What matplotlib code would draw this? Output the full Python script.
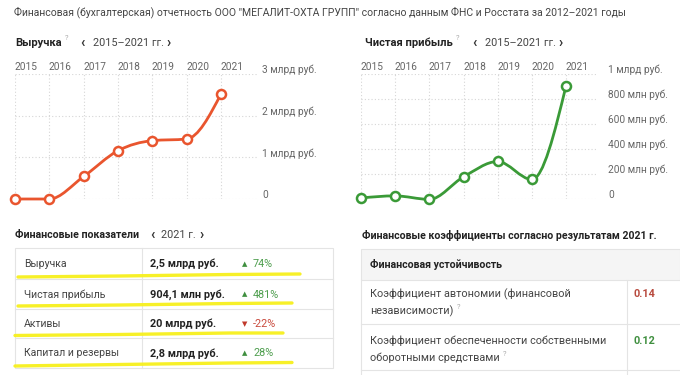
import matplotlib
matplotlib.use("Agg")
import matplotlib.pyplot as plt
import numpy as np
from matplotlib.path import Path
from matplotlib.patches import PathPatch, Rectangle
from matplotlib.lines import Line2D

# данные
years = [2015, 2016, 2017, 2018, 2019, 2020, 2021]
revenue = [0.0, 0.0, 0.54, 1.16, 1.40, 1.44, 2.52]          # млрд руб.
profit = [8, 25, -3, 177, 300, 156, 904]                     # млн руб.
rev_ticks = [0, 1, 2, 3]
rev_labels = ["0", "1 млрд руб.", "2 млрд руб.", "3 млрд руб."]
prof_ticks = [0, 200, 400, 600, 800, 1000]
prof_labels = ["0", "200 млн руб.", "400 млн руб.", "600 млн руб.", "800 млн руб.", "1 млрд руб."]

ind_names = ["Выручка", "Чистая прибыль", "Активы", "Капитал и резервы"]
ind_values = ["2,5 млрд руб.", "904,1 млн руб.", "20 млрд руб.", "2,8 млрд руб."]
ind_change = [74, 481, -22, 28]

coef_names = [["Коэффициент автономии (финансовой", "независимости)"],
              ["Коэффициент обеспеченности собственными", "оборотными средствами"]]
coef_values = ["0.14", "0.12"]
coef_colors = ["#b84a3e", "#3f8f3f"]

W, H = 680, 375
plt.rcParams['font.family'] = ['Roboto', 'DejaVu Sans']
fig = plt.figure(figsize=(W / 100, H / 100), dpi=100)
fig.patch.set_facecolor("white")
renderer = fig.canvas.get_renderer()


def fx(x):
    return x / W


def fy(y):
    return 1 - y / H


def txt(x, y, s, **kw):
    kw.setdefault("va", "center")
    kw.setdefault("ha", "left")
    return fig.text(fx(x), fy(y), s, **kw)


def right_px(t):
    # правый край текста в пикселях
    return t.get_window_extent(renderer).x1


def qmark(t, y):
    txt(right_px(t) + 3, y, "?", fontsize=5.5, color="#aaaaaa")


def monotone_path(xs, ys):
    # кривая как d3.curveMonotoneX
    xs = np.asarray(xs, float)
    ys = np.asarray(ys, float)
    n = len(xs)
    h = np.diff(xs)
    s = np.diff(ys) / h
    t = np.zeros(n)
    for i in range(1, n - 1):
        p = (s[i - 1] * h[i] + s[i] * h[i - 1]) / (h[i - 1] + h[i])
        t[i] = (np.sign(s[i - 1]) + np.sign(s[i])) * min(abs(s[i - 1]), abs(s[i]), 0.5 * abs(p))
    t[0] = (3 * s[0] - t[1]) / 2
    t[-1] = (3 * s[-1] - t[-2]) / 2
    verts = [(xs[0], ys[0])]
    codes = [Path.MOVETO]
    for i in range(n - 1):
        dx = h[i] / 3
        verts += [(xs[i] + dx, ys[i] + dx * t[i]),
                  (xs[i + 1] - dx, ys[i + 1] - dx * t[i + 1]),
                  (xs[i + 1], ys[i + 1])]
        codes += [Path.CURVE4] * 3
    return Path(verts, codes)


def chart(x0, x21, xr, ytop, ybot, ymax, vals, ticks, labels, color, lab_off):
    step = (x21 - x0) / 6
    xmax = 2021 + (xr - x21) / step
    ax = fig.add_axes([fx(x0), fy(ybot), (xr - x0) / W, (ybot - ytop) / H])
    ax.set_xlim(2015, xmax)
    ax.set_ylim(0, ymax)
    ax.axis("off")
    for yr in years:
        ax.plot([yr, yr], [0, ymax], color="#d6d6d6", lw=0.8, ls=(0, (1, 2)), zorder=1)
        ax.annotate(str(yr), (yr, 1), xycoords=("data", "axes fraction"),
                    xytext=(11 * 0.72, 7 * 0.72), textcoords="offset points",
                    ha="center", va="center", fontsize=7.3, color="#666666")
    for tv, tl in zip(ticks, labels):
        ax.plot([2015, xmax], [tv, tv], color="#d6d6d6", lw=0.8, ls=(0, (1, 2)), zorder=1)
        ax.annotate(tl, (1, tv), xycoords=("axes fraction", "data"),
                    xytext=(lab_off * 0.72, 4 * 0.72), textcoords="offset points",
                    ha="left", va="center", fontsize=7.3, color="#666666")
    ax.add_patch(PathPatch(monotone_path(years, vals), fc="none", ec=color,
                           lw=2.0, capstyle="round", joinstyle="round", zorder=3, clip_on=False))
    ax.plot(years, vals, "o", ms=6.5, mfc="white", mec=color, mew=1.8, zorder=4, clip_on=False)
    return ax


chart(15, 221, 258, 74, 199, 3, revenue, rev_ticks, rev_labels, "#e9552e", 4)
chart(361, 566, 598, 74, 199, 1000, profit, prof_ticks, prof_labels, "#3a9a37", 10)

# заголовки
txt(14, 12, 'Финансовая (бухгалтерская) отчетность ООО "МЕГАЛИТ-ОХТА ГРУПП" согласно данным ФНС и Росстата за 2012–2021 годы',
    fontsize=7.5, color="#444444")
t = txt(15, 43, "Выручка", fontsize=8, fontweight="bold", color="#222222")
qmark(t, 38)
txt(80, 43, "‹", fontsize=10, fontweight="bold", color="#333333")
txt(93, 43, "2015–2021 гг.", fontsize=7.8, color="#444444")
txt(166, 43, "›", fontsize=10, fontweight="bold", color="#333333")

t = txt(365, 43, "Чистая прибыль", fontsize=8, fontweight="bold", color="#222222")
qmark(t, 38)
txt(472, 43, "‹", fontsize=10, fontweight="bold", color="#333333")
txt(485, 43, "2015–2021 гг.", fontsize=7.8, color="#444444")
txt(558, 43, "›", fontsize=10, fontweight="bold", color="#333333")

# левая таблица
txt(15, 235, "Финансовые показатели", fontsize=7.6, fontweight="bold", color="#222222")
txt(150, 235, "‹", fontsize=10, fontweight="bold", color="#333333")
txt(161, 235, "2021 г.", fontsize=7.8, color="#444444")
txt(199, 235, "›", fontsize=10, fontweight="bold", color="#333333")

border = "#e4e4e4"
row_y = [248, 279, 309, 338, 368]
fig.add_artist(Rectangle((fx(15), fy(368)), (333 - 15) / W, (368 - 248) / H,
                         transform=fig.transFigure, fc="none", ec=border, lw=0.8))
for yy in row_y[1:-1]:
    fig.add_artist(Line2D([fx(15), fx(333)], [fy(yy), fy(yy)], color=border, lw=0.8))
fig.add_artist(Line2D([fx(142), fx(142)], [fy(248), fy(368)], color=border, lw=0.8))

for i, (nm, vv, ch) in enumerate(zip(ind_names, ind_values, ind_change)):
    yc = (row_y[i] + row_y[i + 1]) / 2 + 0.5
    txt(24, yc, nm, fontsize=7.6, color="#444444")
    txt(150, yc, vv, fontsize=7.8, fontweight="bold", color="#222222")
    if ch >= 0:
        txt(242, yc, "▲", fontsize=5, color="#3f8f3f", family="DejaVu Sans")
        txt(253, yc, f"{ch}%", fontsize=7.8, color="#4e9e4e")
    else:
        txt(242, yc, "▼", fontsize=5, color="#c0392b", family="DejaVu Sans")
        txt(253, yc, f"{ch}%", fontsize=7.8, color="#c94a3d")

# жёлтые подчёркивания
hl = [([18, 120, 230, 300], [277, 276, 274.5, 274]),
      ([18, 120, 230, 292], [306, 305, 303.5, 303]),
      ([15, 120, 230, 283], [335.5, 334.5, 333, 333]),
      ([15, 120, 230, 292], [366, 364.5, 363, 362.5])]
for xs, ys in hl:
    fig.add_artist(Line2D([fx(v) for v in xs], [fy(v) for v in ys],
                          color="#f7f01c", lw=2.4, solid_capstyle="round", alpha=0.95))

# правая таблица
txt(362, 235, "Финансовые коэффициенты согласно результатам 2021 г.", fontsize=7.6,
    fontweight="bold", color="#222222")
fig.add_artist(Rectangle((fx(361), fy(280)), (W - 361) / W, (280 - 249) / H,
                         transform=fig.transFigure, fc="#f5f5f5", ec=border, lw=0.8))
for yy in [324, 370]:
    fig.add_artist(Line2D([fx(361), fx(W)], [fy(yy), fy(yy)], color=border, lw=0.8))
fig.add_artist(Line2D([fx(361), fx(361)], [fy(280), fy(375)], color=border, lw=0.8))
fig.add_artist(Line2D([fx(627), fx(627)], [fy(280), fy(375)], color=border, lw=0.8))
txt(370, 265, "Финансовая устойчивость", fontsize=7.6, fontweight="bold", color="#222222")

row_top = [294, 341]
for i in range(2):
    txt(370, row_top[i], coef_names[i][0], fontsize=7.8, color="#444444")
    t = txt(370, row_top[i] + 17, coef_names[i][1], fontsize=7.8, color="#444444")
    qmark(t, row_top[i] + 13)
    txt(633, row_top[i], coef_values[i], fontsize=7.8, fontweight="bold", color=coef_colors[i])

fig.savefig("out.png", dpi=100)
